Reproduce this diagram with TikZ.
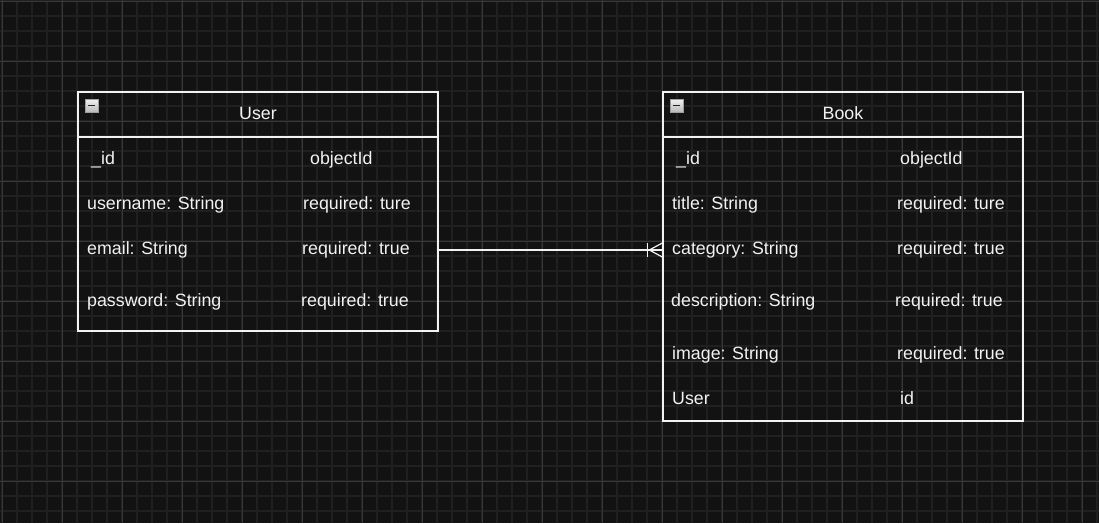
\documentclass[tikz,border=0pt]{standalone}
\usepackage{fontspec}
\setmainfont{Liberation Sans}
\usetikzlibrary{calc}
\definecolor{canvas}{HTML}{121212}
\definecolor{gridminor}{HTML}{202020}
\definecolor{gridmajor}{HTML}{383838}
\definecolor{inkwhite}{HTML}{F2F2F2}
\def\collapsebox(#1,#2){\shade[top color=gray!10, bottom color=gray!55, draw=gray!75] (#1,#2) rectangle ++(13,13); \draw[line width=1.4pt, color=black!85] (#1+3,#2+6.5) -- (#1+10,#2+6.5);}
\tikzset{
  minorgrid/.style={line width=1.2pt, color=gridminor},
  majorgrid/.style={line width=1pt, color=gridmajor},
  tablebox/.style={draw=inkwhite, line width=1.4pt, inner sep=0pt},
  boxline/.style={draw=inkwhite, line width=1.4pt},
  relation/.style={draw=inkwhite, line width=1.2pt},
  tabletitle/.style={text=inkwhite, font=\fontsize{17.8}{21}\selectfont, inner sep=0pt, text height=13pt, text depth=0pt},
  field/.style={text=inkwhite, font=\fontsize{17.8}{21}\selectfont, anchor=west, inner sep=0pt, text height=13pt, text depth=0pt}
}

\begin{document}
\begin{tikzpicture}[x=1pt, y=-1pt]
			%%%%% CANVAS %%%%%
			\useasboundingbox (0,0) rectangle (1099,523);
			\fill[canvas] (0,0) rectangle (1099,523);
			\foreach \x in {2,17,...,1097} \draw[minorgrid] (\x,0) -- (\x,523);
			\foreach \y in {1,16,...,523} \draw[minorgrid] (0,\y) -- (1099,\y);
			\foreach \x in {2,62,...,1097} \draw[majorgrid] (\x,0) -- (\x,523);
			\foreach \y in {1,61,...,523} \draw[majorgrid] (0,\y) -- (1099,\y);
			
			%%%%% USER %%%%%
			\node[tablebox, minimum width=360pt, minimum height=239pt] (user) at (258,211.5) {};
			\coordinate (userhead) at (258,137);
			\draw[boxline] (user.west |- userhead) -- (user.east |- userhead);
			\collapsebox(85,99)
			\node[tabletitle] (usertitle) at (258,113) {User};
			
			\node[field] (uid) at (91,158) {\_id};
			\node[field] (uidtype) at (310,158) {objectId};
			\node[field] (uname) at (87,203) {username: String};
			\node[field] (unamereq) at (303,203) {required: ture};
			\node[field] (uemail) at (87,248) {email: String};
			\node[field] (uemailreq) at (302,248) {required: true};
			\node[field] (upass) at (87,300) {password: String};
			\node[field] (upassreq) at (301,300) {required: true};
			
			%%%%% BOOK %%%%%
			\node[tablebox, minimum width=360pt, minimum height=329pt] (book) at (843,256.5) {};
			\coordinate (bookhead) at (843,137);
			\draw[boxline] (book.west |- bookhead) -- (book.east |- bookhead);
			\collapsebox(670,99)
			\node[tabletitle] (booktitle) at (843,113) {Book};
			
			\node[field] (bid) at (676,158) {\_id};
			\node[field] (bidtype) at (900,158) {objectId};
			\node[field] (btitle) at (672,203) {title: String};
			\node[field] (btitlereq) at (897,203) {required: ture};
			\node[field] (bcategory) at (672,248) {category: String};
			\node[field] (bcategoryreq) at (897,248) {required: true};
			\node[field] (bdesc) at (671,300) {description: String};
			\node[field] (bdescreq) at (895,300) {required: true};
			\node[field] (bimage) at (672,353) {image: String};
			\node[field] (bimagereq) at (897,353) {required: true};
			\node[field] (buser) at (672,398) {User};
			\node[field] (buserid) at (900,398) {id};
			
			%%%%% RELATION %%%%%
			\coordinate (link) at (550,250);
			\coordinate (manyend) at (book.west |- link);
			\draw[relation] (user.east |- link) -- (manyend);
			\draw[relation] ($(manyend)+(-15,-7)$) -- ($(manyend)+(-15,7)$);
			\draw[relation] ($(manyend)+(0,-7)$) -- ($(manyend)+(-13,0)$) -- ($(manyend)+(0,7)$);
			
			%%%%% END %%%%%
		\end{tikzpicture}
\end{document}
